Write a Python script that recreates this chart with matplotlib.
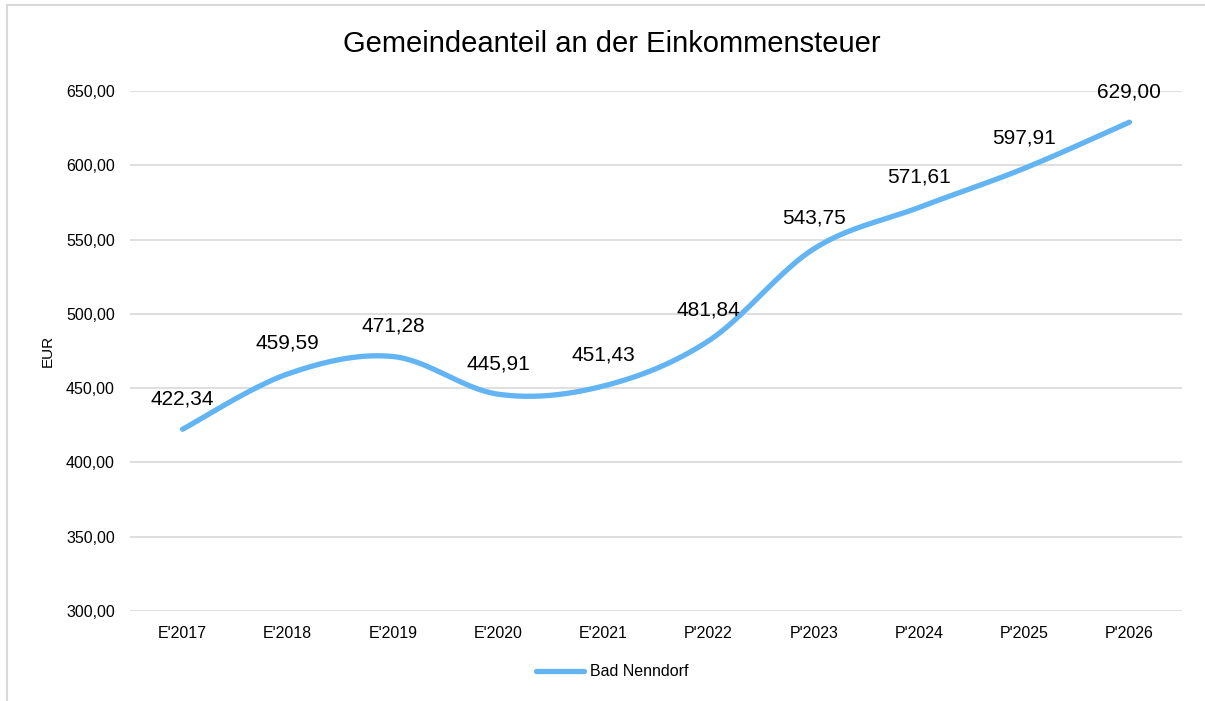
import numpy as np
import matplotlib

matplotlib.use("Agg")
import matplotlib.pyplot as plt
from matplotlib.lines import Line2D

plt.rcParams["font.family"] = ["Liberation Sans", "DejaVu Sans"]

categories = ["E'2017", "E'2018", "E'2019", "E'2020", "E'2021",
              "P'2022", "P'2023", "P'2024", "P'2025", "P'2026"]
values = [422.34, 459.59, 471.28, 445.91, 451.43,
          481.84, 543.75, 571.61, 597.91, 629.00]
series_name = "Bad Nenndorf"
yticks = [300, 350, 400, 450, 500, 550, 600, 650]

LINE_COLOR = "#63B4F3"
GRID_COLOR = "#D9D9D9"


def smooth_curve(x, y, steps=40):
    """Excel-artige Glättung: kubische Bezier-Segmente (Catmull-Rom)."""
    x = np.asarray(x, dtype=float)
    y = np.asarray(y, dtype=float)
    n = len(x)
    xs, ys = [], []
    t = np.linspace(0, 1, steps)
    for i in range(n - 1):
        p0 = np.array([x[max(i - 1, 0)], y[max(i - 1, 0)]])
        p1 = np.array([x[i], y[i]])
        p2 = np.array([x[i + 1], y[i + 1]])
        p3 = np.array([x[min(i + 2, n - 1)], y[min(i + 2, n - 1)]])
        c1 = p1 + (p2 - p0) / 6
        c2 = p2 - (p3 - p1) / 6
        b = ((1 - t) ** 3)[:, None] * p1 + (3 * (1 - t) ** 2 * t)[:, None] * c1 \
            + (3 * (1 - t) * t ** 2)[:, None] * c2 + (t ** 3)[:, None] * p2
        xs.extend(b[:, 0])
        ys.extend(b[:, 1])
    return xs, ys


fig = plt.figure(figsize=(12.05, 7.01), dpi=100)
ax = fig.add_axes([130 / 1205, 1 - 611 / 701, 1052 / 1205, 520 / 701])

x = np.arange(len(categories))
sx, sy = smooth_curve(x, values)
ax.plot(sx, sy, color=LINE_COLOR, linewidth=3.8, solid_capstyle="round",
        label=series_name)

for xi, v in zip(x, values):
    label = f"{v:.2f}".replace(".", ",")
    ax.annotate(label, (xi, v), xytext=(0, 22), textcoords="offset points",
                ha="center", va="center", fontsize=15, color="#000000")

ax.set_xlim(-0.5, len(categories) - 0.5)
ax.set_ylim(300, 650)
ax.set_yticks(yticks)
ax.set_yticklabels([f"{v:.2f}".replace(".", ",") for v in yticks])
ax.set_xticks(x)
ax.set_xticklabels(categories)
ax.tick_params(axis="both", length=0, labelsize=11.5, colors="#000000")
ax.tick_params(axis="y", pad=11)
ax.tick_params(axis="x", pad=11)
ax.grid(axis="y", color=GRID_COLOR, linewidth=1.2)
ax.set_axisbelow(True)
for s in ax.spines.values():
    s.set_visible(False)

ax.set_ylabel("EUR", fontsize=11, labelpad=8)

fig.text(0.508, 1 - 44 / 701, "Gemeindeanteil an der Einkommensteuer",
         ha="center", va="center", fontsize=21)

leg = fig.legend(handles=[Line2D([0], [0], color=LINE_COLOR, linewidth=3.8,
                                 solid_capstyle="round")],
                 labels=[series_name], loc="center",
                 bbox_to_anchor=(612 / 1205, 1 - 672 / 701),
                 frameon=False, fontsize=11.5, handlelength=3.0,
                 handletextpad=0.35)

# Rahmen des Diagrammbereichs (links und oben sichtbar)
fig.add_artist(Line2D([7.5 / 1205, 7.5 / 1205], [0, 1 - 5 / 701],
                      color=GRID_COLOR, linewidth=1.5))
fig.add_artist(Line2D([7.5 / 1205, 1], [1 - 5 / 701, 1 - 5 / 701],
                      color=GRID_COLOR, linewidth=1.5))

fig.savefig("out.png", dpi=100)
